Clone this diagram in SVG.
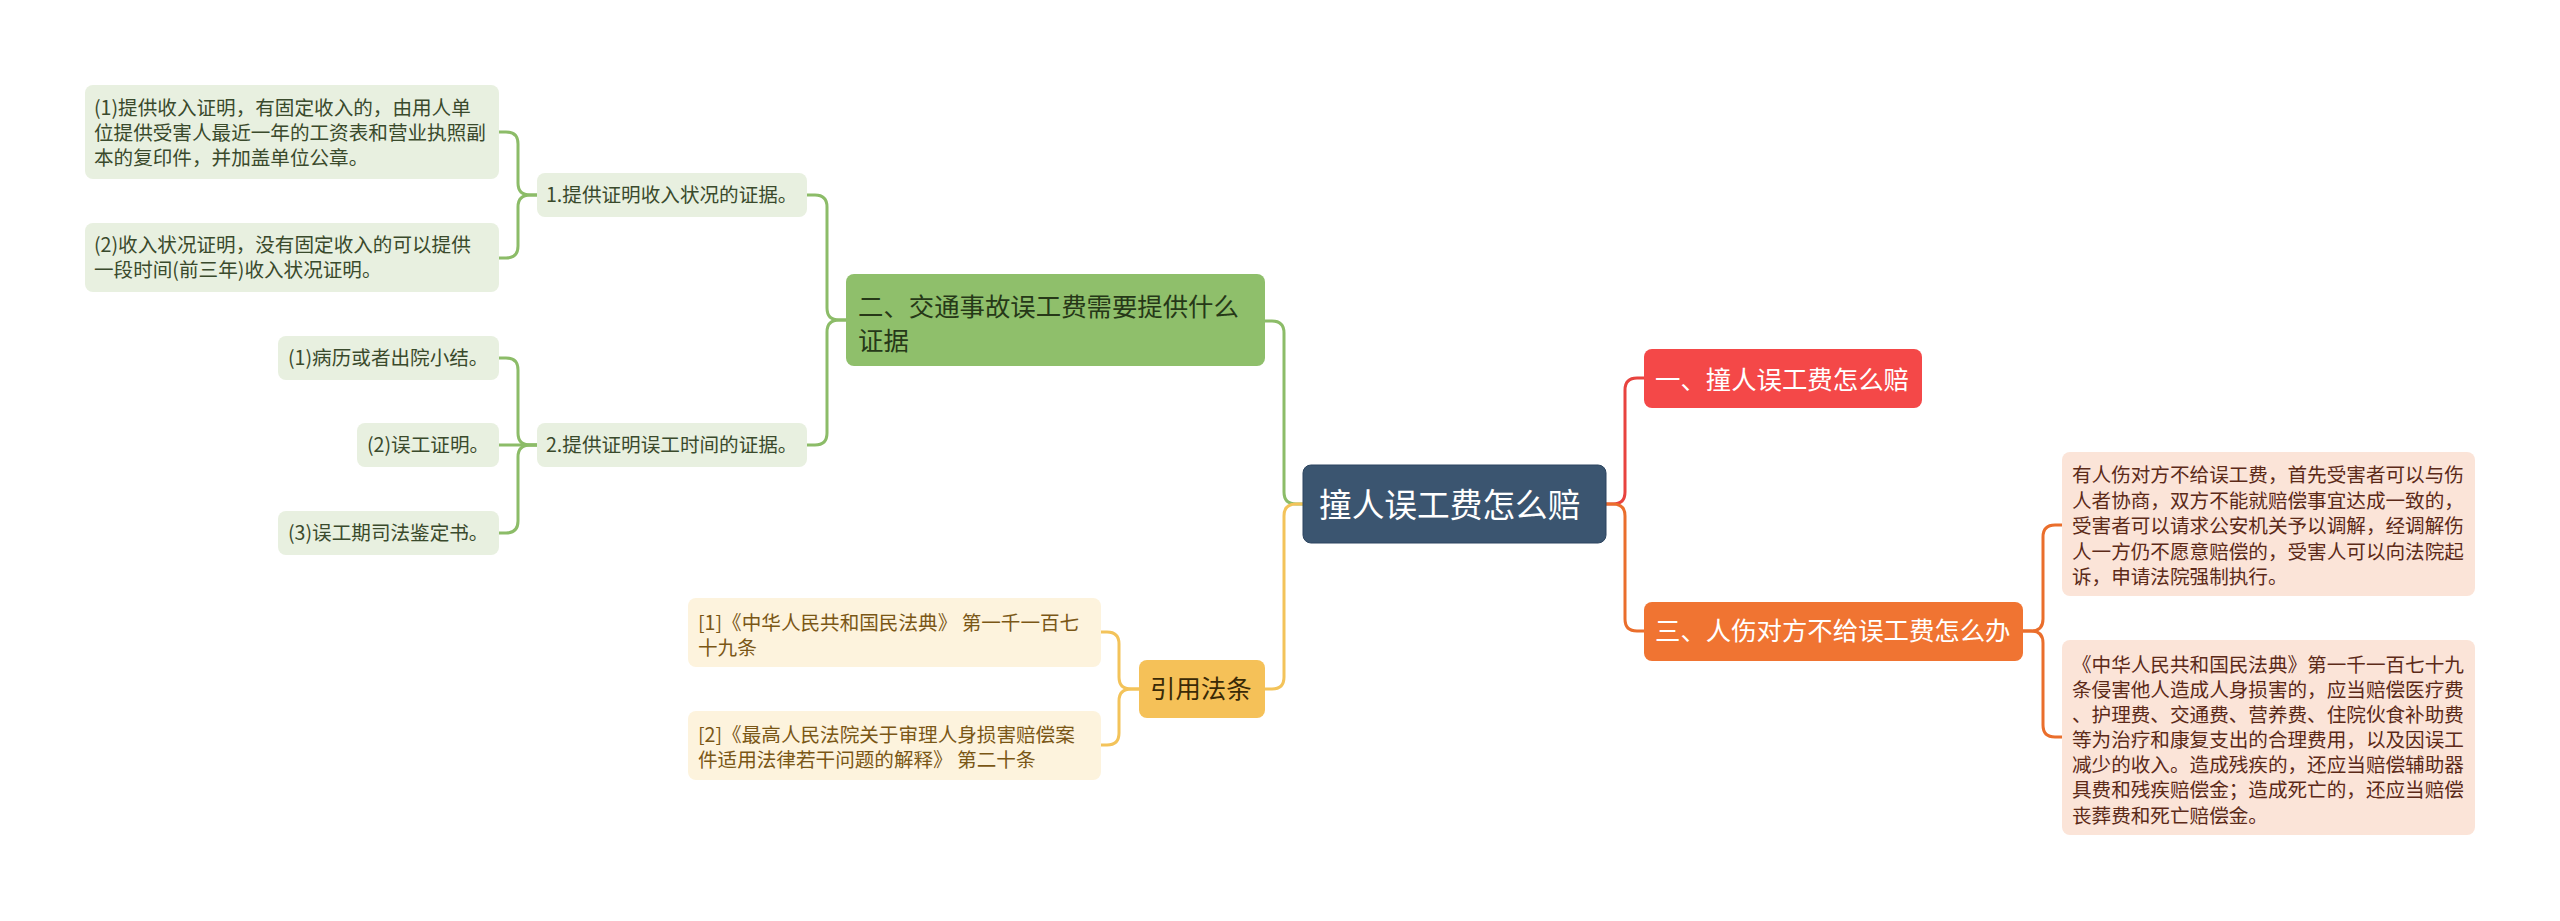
<svg xmlns="http://www.w3.org/2000/svg" width="2560" height="921" viewBox="0 0 2560 921">
<style>
text{font-family:"Noto Sans CJK SC","Noto Sans",sans-serif;}
.s{font-size:19.6px;}
.m{font-size:25.4px;}
.c{font-size:32.7px;fill:#ffffff;}
.gb{fill:#e8f0e0;}
.gt{fill:#3a4a2c;}
.yb{fill:#fdf3dd;}
.yt{fill:#7a5716;}
.pb{fill:#fbe4d8;}
.pt{fill:#5c2a18;}
.ln{fill:none;stroke-width:3;stroke-linecap:round;}
.lg{stroke:#8cbc68;}
.ly{stroke:#f3c35a;}
.lr{stroke:#e8433f;}
.lo{stroke:#ea6e2c;}
</style>
<rect width="2560" height="921" fill="#ffffff"/>
<g id="connectors">
<path class="ln lg" d="M1303,504 H1296 Q1284,504 1284,492 V333 Q1284,321 1272,321 H1265"/>
<path class="ln ly" d="M1303,504 H1296 Q1284,504 1284,516 V677 Q1284,689 1272,689 H1265"/>
<path class="ln lr" d="M1606,504 H1613 Q1625,504 1625,492 V390 Q1625,378 1637,378 H1644"/>
<path class="ln lo" d="M1606,504 H1613 Q1625,504 1625,516 V619 Q1625,631 1637,631 H1644"/>
<path class="ln lg" d="M846,320 H839 Q827,320 827,308 V207 Q827,195 815,195 H807"/>
<path class="ln lg" d="M846,320 H839 Q827,320 827,332 V433 Q827,445 815,445 H807"/>
<path class="ln lg" d="M537,195 H530 Q518,195 518,183 V144 Q518,132 506,132 H499"/>
<path class="ln lg" d="M537,195 H530 Q518,195 518,207 V246 Q518,258 506,258 H499"/>
<path class="ln lg" d="M537,445 H530 Q518,445 518,433 V370 Q518,358 506,358 H499"/>
<path class="ln lg" d="M537,445 H499"/>
<path class="ln lg" d="M537,445 H530 Q518,445 518,457 V521 Q518,533 506,533 H499"/>
<path class="ln ly" d="M1139,689 H1131 Q1119,689 1119,677 V644 Q1119,632 1107,632 H1101"/>
<path class="ln ly" d="M1139,689 H1131 Q1119,689 1119,701 V733 Q1119,745 1107,745 H1101"/>
<path class="ln lo" d="M2023,631 H2031 Q2043,631 2043,619 V537 Q2043,525 2055,525 H2062"/>
<path class="ln lo" d="M2023,631 H2031 Q2043,631 2043,643 V725 Q2043,737 2055,737 H2062"/>
</g>
<g id="center">
<rect x="1303" y="465" width="303" height="78" rx="8" fill="#3b5570" stroke="#2d4560" stroke-width="1"/>
<text class="c" x="1319" y="517">撞人误工费怎么赔</text>
</g>
<g id="n-green">
<rect x="846" y="274" width="419" height="92" rx="8" fill="#8fbf6b"/>
<text class="m" x="858" y="316" fill="#263818">二、交通事故误工费需要提供什么</text>
<text class="m" x="858" y="350" fill="#263818">证据</text>
</g>
<g id="n-g1">
<rect class="gb" x="537" y="173" width="270" height="44" rx="8"/>
<text class="s gt" x="546" y="202">1.提供证明收入状况的证据。</text>
</g>
<g id="n-g1a">
<rect class="gb" x="85" y="85" width="414" height="94" rx="8"/>
<text class="s gt" x="94" y="114.5">(1)提供收入证明，有固定收入的，由用人单</text>
<text class="s gt" x="94" y="139.5">位提供受害人最近一年的工资表和营业执照副</text>
<text class="s gt" x="94" y="164.5">本的复印件，并加盖单位公章。</text>
</g>
<g id="n-g1b">
<rect class="gb" x="85" y="223" width="414" height="69" rx="8"/>
<text class="s gt" x="94" y="252">(2)收入状况证明，没有固定收入的可以提供</text>
<text class="s gt" x="94" y="277">一段时间(前三年)收入状况证明。</text>
</g>
<g id="n-g2">
<rect class="gb" x="537" y="423" width="270" height="44" rx="8"/>
<text class="s gt" x="546" y="452">2.提供证明误工时间的证据。</text>
</g>
<g id="n-g2a">
<rect class="gb" x="278" y="336" width="221" height="44" rx="8"/>
<text class="s gt" x="288" y="365">(1)病历或者出院小结。</text>
</g>
<g id="n-g2b">
<rect class="gb" x="357" y="423" width="142" height="44" rx="8"/>
<text class="s gt" x="367" y="452">(2)误工证明。</text>
</g>
<g id="n-g2c">
<rect class="gb" x="278" y="511" width="221" height="44" rx="8"/>
<text class="s gt" x="288" y="540">(3)误工期司法鉴定书。</text>
</g>
<g id="n-yellow">
<rect x="1139" y="660" width="126" height="58" rx="8" fill="#f5c158"/>
<text class="m" x="1150" y="698" fill="#3a2a06">引用法条</text>
</g>
<g id="n-y1">
<rect class="yb" x="688" y="598" width="413" height="69" rx="8"/>
<text class="s yt" x="698" y="630">[1]《中华人民共和国民法典》 第一千一百七</text>
<text class="s yt" x="698" y="655">十九条</text>
</g>
<g id="n-y2">
<rect class="yb" x="688" y="711" width="413" height="69" rx="8"/>
<text class="s yt" x="698" y="742">[2]《最高人民法院关于审理人身损害赔偿案</text>
<text class="s yt" x="698" y="767">件适用法律若干问题的解释》 第二十条</text>
</g>
<g id="n-red">
<rect x="1644" y="349" width="278" height="59" rx="8" fill="#f44848"/>
<text class="m" x="1655" y="389" fill="#ffffff">一、撞人误工费怎么赔</text>
</g>
<g id="n-orange">
<rect x="1644" y="602" width="379" height="59" rx="8" fill="#f07432"/>
<text class="m" x="1655" y="640" fill="#ffffff">三、人伤对方不给误工费怎么办</text>
</g>
<g id="n-o1">
<rect class="pb" x="2062" y="452" width="413" height="144" rx="8"/>
<text class="s pt" x="2072" y="482">有人伤对方不给误工费，首先受害者可以与伤</text>
<text class="s pt" x="2072" y="508">人者协商，双方不能就赔偿事宜达成一致的，</text>
<text class="s pt" x="2072" y="533">受害者可以请求公安机关予以调解，经调解伤</text>
<text class="s pt" x="2072" y="559">人一方仍不愿意赔偿的，受害人可以向法院起</text>
<text class="s pt" x="2072" y="584">诉，申请法院强制执行。</text>
</g>
<g id="n-o2">
<rect class="pb" x="2062" y="640" width="413" height="195" rx="8"/>
<text class="s pt" x="2072" y="672">《中华人民共和国民法典》第一千一百七十九</text>
<text class="s pt" x="2072" y="697">条侵害他人造成人身损害的，应当赔偿医疗费</text>
<text class="s pt" x="2072" y="722">、护理费、交通费、营养费、住院伙食补助费</text>
<text class="s pt" x="2072" y="747">等为治疗和康复支出的合理费用，以及因误工</text>
<text class="s pt" x="2072" y="772">减少的收入。造成残疾的，还应当赔偿辅助器</text>
<text class="s pt" x="2072" y="797">具费和残疾赔偿金；造成死亡的，还应当赔偿</text>
<text class="s pt" x="2072" y="823">丧葬费和死亡赔偿金。</text>
</g>
</svg>
